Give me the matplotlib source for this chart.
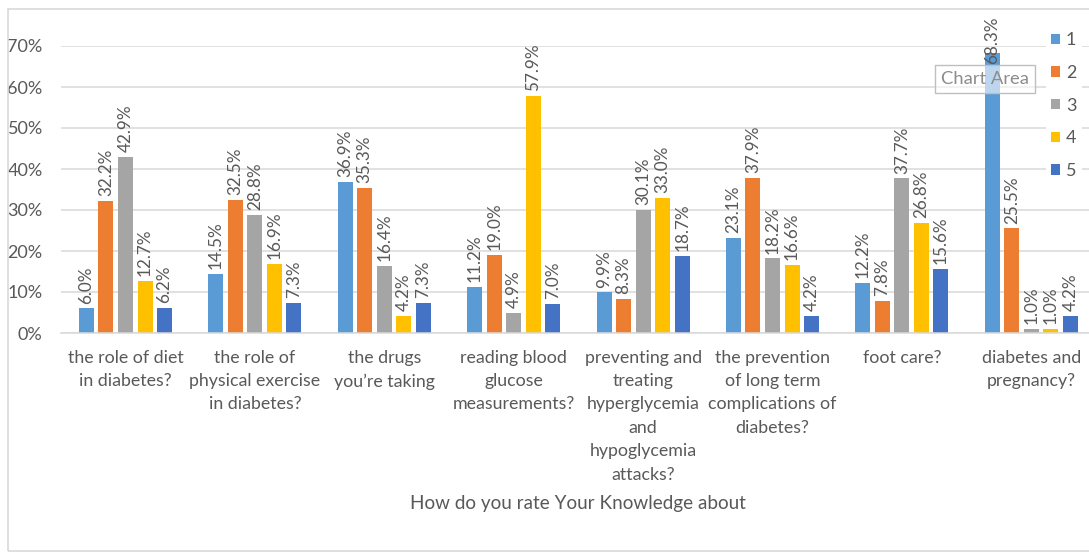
import numpy as np
import matplotlib.pyplot as plt
from matplotlib.patches import Rectangle

plt.rcParams['font.family'] = ['Lato', 'DejaVu Sans']

# Knowledge topics (x axis) and the share of answers for each rating 1-5
topics = [
    "the role of diet\nin diabetes?",
    "the role of\nphysical exercise\nin diabetes?",
    "the drugs\nyou\u2019re taking",
    "reading blood\nglucose\nmeasurements?",
    "preventing and\ntreating\nhyperglycemia\nand\nhypoglycemia\nattacks?",
    "the prevention\nof long term\ncomplications of\ndiabetes?",
    "foot care?",
    "diabetes and\npregnancy?",
]
ratings = ["1", "2", "3", "4", "5"]

rating_1 = [6.0, 14.5, 36.9, 11.2, 9.9, 23.1, 12.2, 68.3]
rating_2 = [32.2, 32.5, 35.3, 19.0, 8.3, 37.9, 7.8, 25.5]
rating_3 = [42.9, 28.8, 16.4, 4.9, 30.1, 18.2, 37.7, 1.0]
rating_4 = [12.7, 16.9, 4.2, 57.9, 33.0, 16.6, 26.8, 1.0]
rating_5 = [6.2, 7.3, 7.3, 7.0, 18.7, 4.2, 15.6, 4.2]
series = [rating_1, rating_2, rating_3, rating_4, rating_5]

colors = ['#5B9BD5', '#ED7D31', '#A5A5A5', '#FFC000', '#4472C4']
yticks = [0, 10, 20, 30, 40, 50, 60, 70]

text_gray = '#595959'
grid_gray = '#D9D9D9'

fig = plt.figure(figsize=(10.89, 5.55), dpi=100)
W, H = 1089, 555

# chart area border (right side runs off the image)
fig.patches.append(Rectangle((7.5 / W, 4 / H), 1.2, (546 / H - 4 / H),
                             transform=fig.transFigure, fill=False,
                             edgecolor=grid_gray, linewidth=1.2))

ax = fig.add_axes([60.8 / W, (H - 333) / H, 1035.2 / W, 287 / H])
ax.set_xlim(-0.5, len(topics) - 0.5)
ax.set_ylim(0, 70)

x = np.arange(len(topics))
bar_w = 0.116
step = 0.151
label_cap = 64.5

for j, vals in enumerate(series):
    pos = x + (j - 2) * step
    ax.bar(pos, vals, width=bar_w, color=colors[j], label=ratings[j], zorder=2)
    for xp, v in zip(pos, vals):
        ax.annotate(f"{v:.1f}%", (xp, min(v, label_cap)), xytext=(0, 3.5),
                    textcoords='offset points', rotation=90, ha='center',
                    va='bottom', fontsize=12.3, color=text_gray, zorder=3,
                    annotation_clip=False)

ax.set_yticks(yticks)
ax.set_yticklabels([f"{t}%" for t in yticks], fontsize=13, color=text_gray)
ax.yaxis.grid(True, color=grid_gray, linewidth=1.1, zorder=0)
ax.tick_params(axis='y', length=0, pad=13)
ax.set_xticks([])
for s in ['top', 'right', 'left']:
    ax.spines[s].set_visible(False)
ax.spines['bottom'].set_color(grid_gray)
ax.spines['bottom'].set_linewidth(1.1)

for xi, name in zip(x, topics):
    ax.annotate(name, (xi, 0), xytext=(0, -12), textcoords='offset points',
                ha='center', va='top', fontsize=12.8, color=text_gray,
                linespacing=1.57, annotation_clip=False)

fig.text(578 / W, 1 - 503 / H, "How do you rate Your Knowledge about",
         ha='center', va='center', fontsize=13.6, color=text_gray)

leg = ax.legend(loc='upper left', bbox_to_anchor=(1046 / W, 1 - 27 / H),
                bbox_transform=fig.transFigure, frameon=True, fontsize=13,
                handlelength=0.5, handleheight=0.5, handletextpad=0.3,
                labelspacing=0.92, borderpad=0.3, borderaxespad=0)
leg.get_frame().set_facecolor('white')
leg.get_frame().set_edgecolor('none')
leg.get_frame().set_alpha(1)
for t in leg.get_texts():
    t.set_color(text_gray)

# hover tooltip box
fig.text(985 / W, 1 - 79 / H, "Chart Area", ha='center', va='center',
         fontsize=13.2, color='#8C8C8C',
         bbox=dict(boxstyle='square,pad=0.32', facecolor=(1, 1, 1, 0.6),
                   edgecolor='#BFBFBF', linewidth=1))

fig.savefig('out.png', dpi=100)
